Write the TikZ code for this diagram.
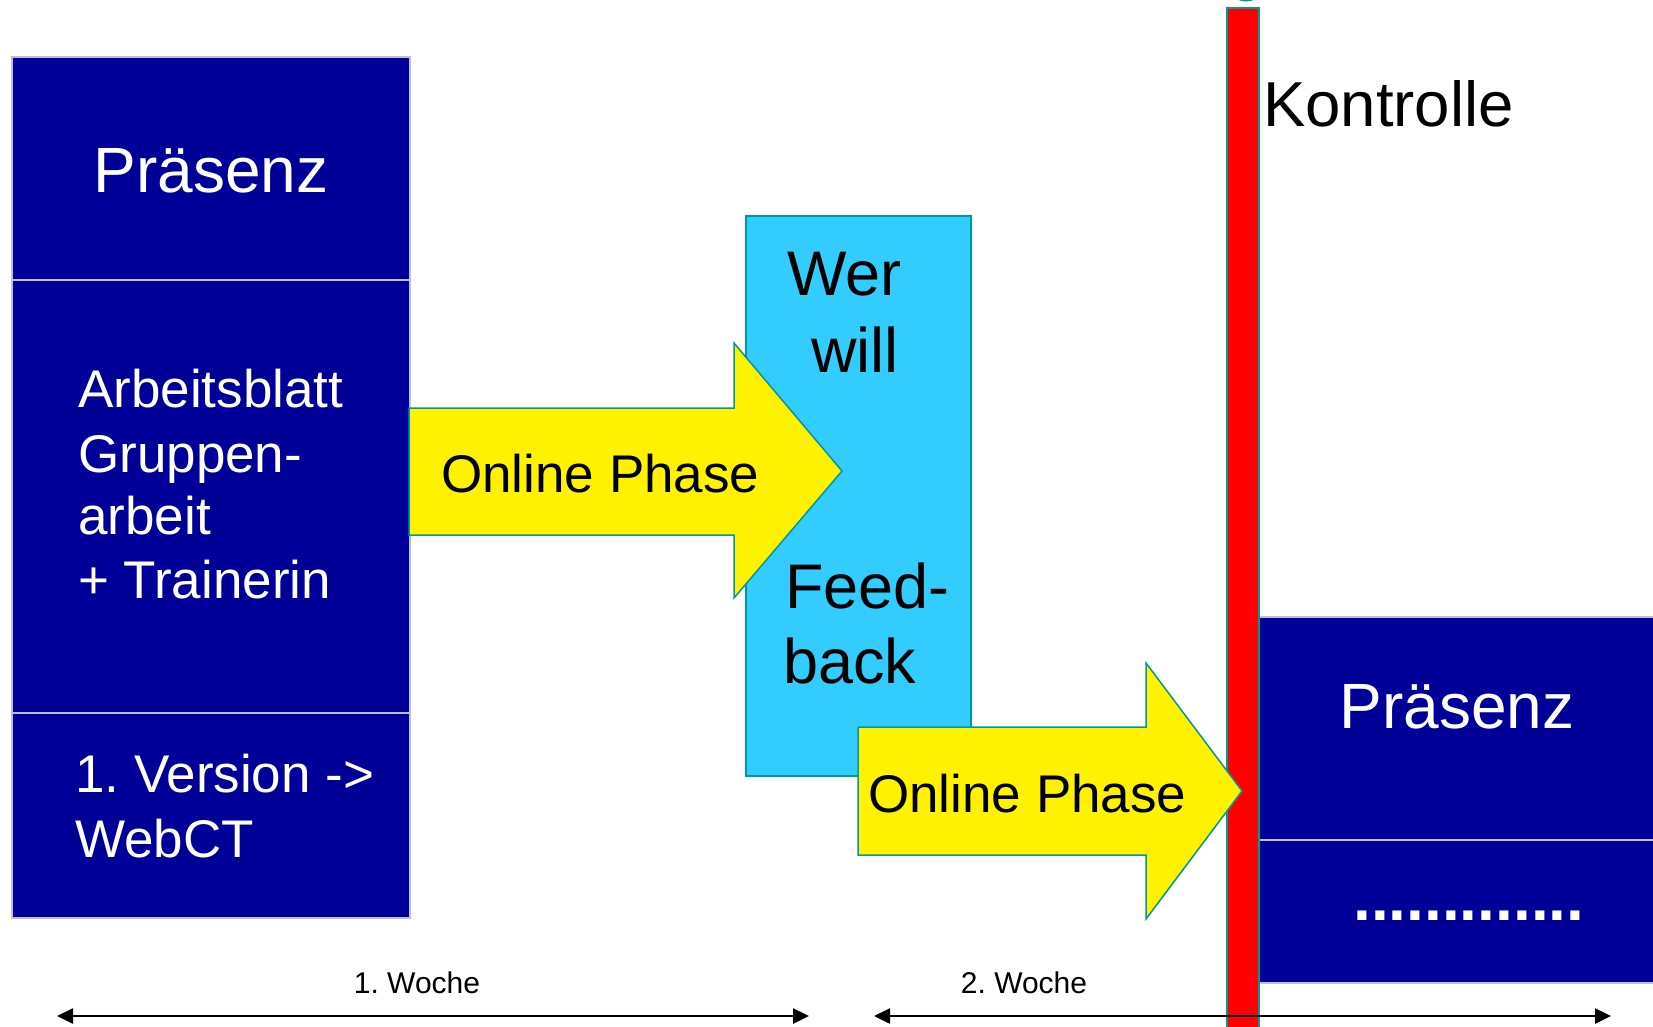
\documentclass[tikz,border=0pt]{standalone}
\usepackage{fontspec}
\setmainfont{Liberation Sans}
\usetikzlibrary{arrows.meta}

\definecolor{praesblue}{HTML}{000099}
\definecolor{wercyan}{HTML}{33CCFF}
\definecolor{rimteal}{HTML}{009999}
\definecolor{seplav}{HTML}{BEBEE1}
\newcommand{\fsz}[1]{\fontsize{#1}{#1}\selectfont}
\frenchspacing

\begin{document}
\begin{tikzpicture}[x=1pt,y=-1pt,
    bluebox/.style={fill=praesblue,draw=seplav,line width=1.5pt,anchor=north west,inner sep=0pt},
    onlinearrow/.style={fill=yellow,draw=rimteal,line width=1.5pt,line join=miter},
    whitetxt/.style={text=white,inner sep=0pt,anchor=base west},
    blacktxt/.style={text=black,inner sep=0pt,anchor=base west},
    week/.style={{Triangle[length=16pt,width=15pt]}-{Triangle[length=16pt,width=15pt]},line width=2.5pt}]
    \useasboundingbox (0,0) rectangle (1653,1026);

    % left column
    \node[bluebox,minimum width=398pt,minimum height=223pt] (praesA) at (11,56) {};
    \node[bluebox,minimum width=398pt,minimum height=433pt] (arbeit) at (11,279) {};
    \node[bluebox,minimum width=398pt,minimum height=205pt] (version) at (11,712) {};

    % right column
    \node[bluebox,minimum width=398pt,minimum height=223pt] (praesB) at (1258,616) {};
    \node[bluebox,minimum width=398pt,minimum height=143pt] (weiter) at (1258,839) {};

    % feedback box
    \node[fill=wercyan,draw=rimteal,line width=1.5pt,anchor=north west,inner sep=0pt,
          minimum width=225pt,minimum height=560pt] (feedback) at (745,215) {};

    % red bar
    \fill[rimteal] (1246,-4) ellipse (11 and 5.5);
    \node[fill=red,draw=rimteal,line width=2pt,anchor=north west,inner sep=0pt,
          minimum width=32pt,minimum height=1030pt] (kontrollbar) at (1226,7) {};

    % the two online arrows
    \draw[onlinearrow] (409,408) -- (734,408) -- (734,343) -- (842,471)
        -- (734,598) -- (734,535) -- (409,535) -- cycle;
    \draw[onlinearrow] (858,727) -- (1146,727) -- (1146,663) -- (1242,791)
        -- (1146,919) -- (1146,855) -- (858,855) -- cycle;

    % texts
    \node[whitetxt,font=\fsz{64},anchor=base] (tpraesA) at (211,192) {Präsenz};
    \foreach \name/\txt/\yy in {tarb1/Arbeitsblatt/407, tarb2/Gruppen-/472,
                                tarb3/arbeit/534, tarb4/{+ Trainerin}/598}
        \node[whitetxt,font=\fsz{53}] (\name) at (78,\yy) {\txt};
    \node[whitetxt,font=\fsz{53}] (tver1) at (75,792) {1. Version ->};
    \node[whitetxt,font=\fsz{53}] (tver2) at (75,857) {WebCT};

    \node[blacktxt,font=\fsz{53}] (tonl1) at (441,492) {Online Phase};
    \node[blacktxt,font=\fsz{53}] (tonl2) at (868,812) {Online Phase};

    \node[blacktxt,font=\fsz{63}] (twer) at (787,295) {Wer};
    \node[blacktxt,font=\fsz{63}] (twill) at (811,372) {will};
    \node[blacktxt,font=\fsz{63}] (tfeed) at (785,608) {Feed-};
    \node[blacktxt,font=\fsz{63}] (tback) at (783,683) {back};

    \node[blacktxt,font=\fsz{63.5}] (tkontr) at (1263,126) {Kontrolle};
    \node[whitetxt,font=\fsz{64},anchor=base] (tpraesB) at (1457,728) {Präsenz};
    \node[whitetxt,font=\fsz{64}\bfseries] (tdots) at (1353,920) {.............};

    % weeks
    \node[blacktxt,font=\fsz{30},anchor=base] (tw1) at (417,993) {1. Woche};
    \node[blacktxt,font=\fsz{30},anchor=base] (tw2) at (1024,993) {2. Woche};
    \coordinate (w1s) at (57,1016);
    \coordinate (w1e) at (809,1016);
    \coordinate (w2s) at (874,1016);
    \coordinate (w2e) at (1611,1016);
    \draw[week] (w1s) -- (w1e);
    \draw[week] (w2s) -- (w2e);
\end{tikzpicture}
\end{document}
